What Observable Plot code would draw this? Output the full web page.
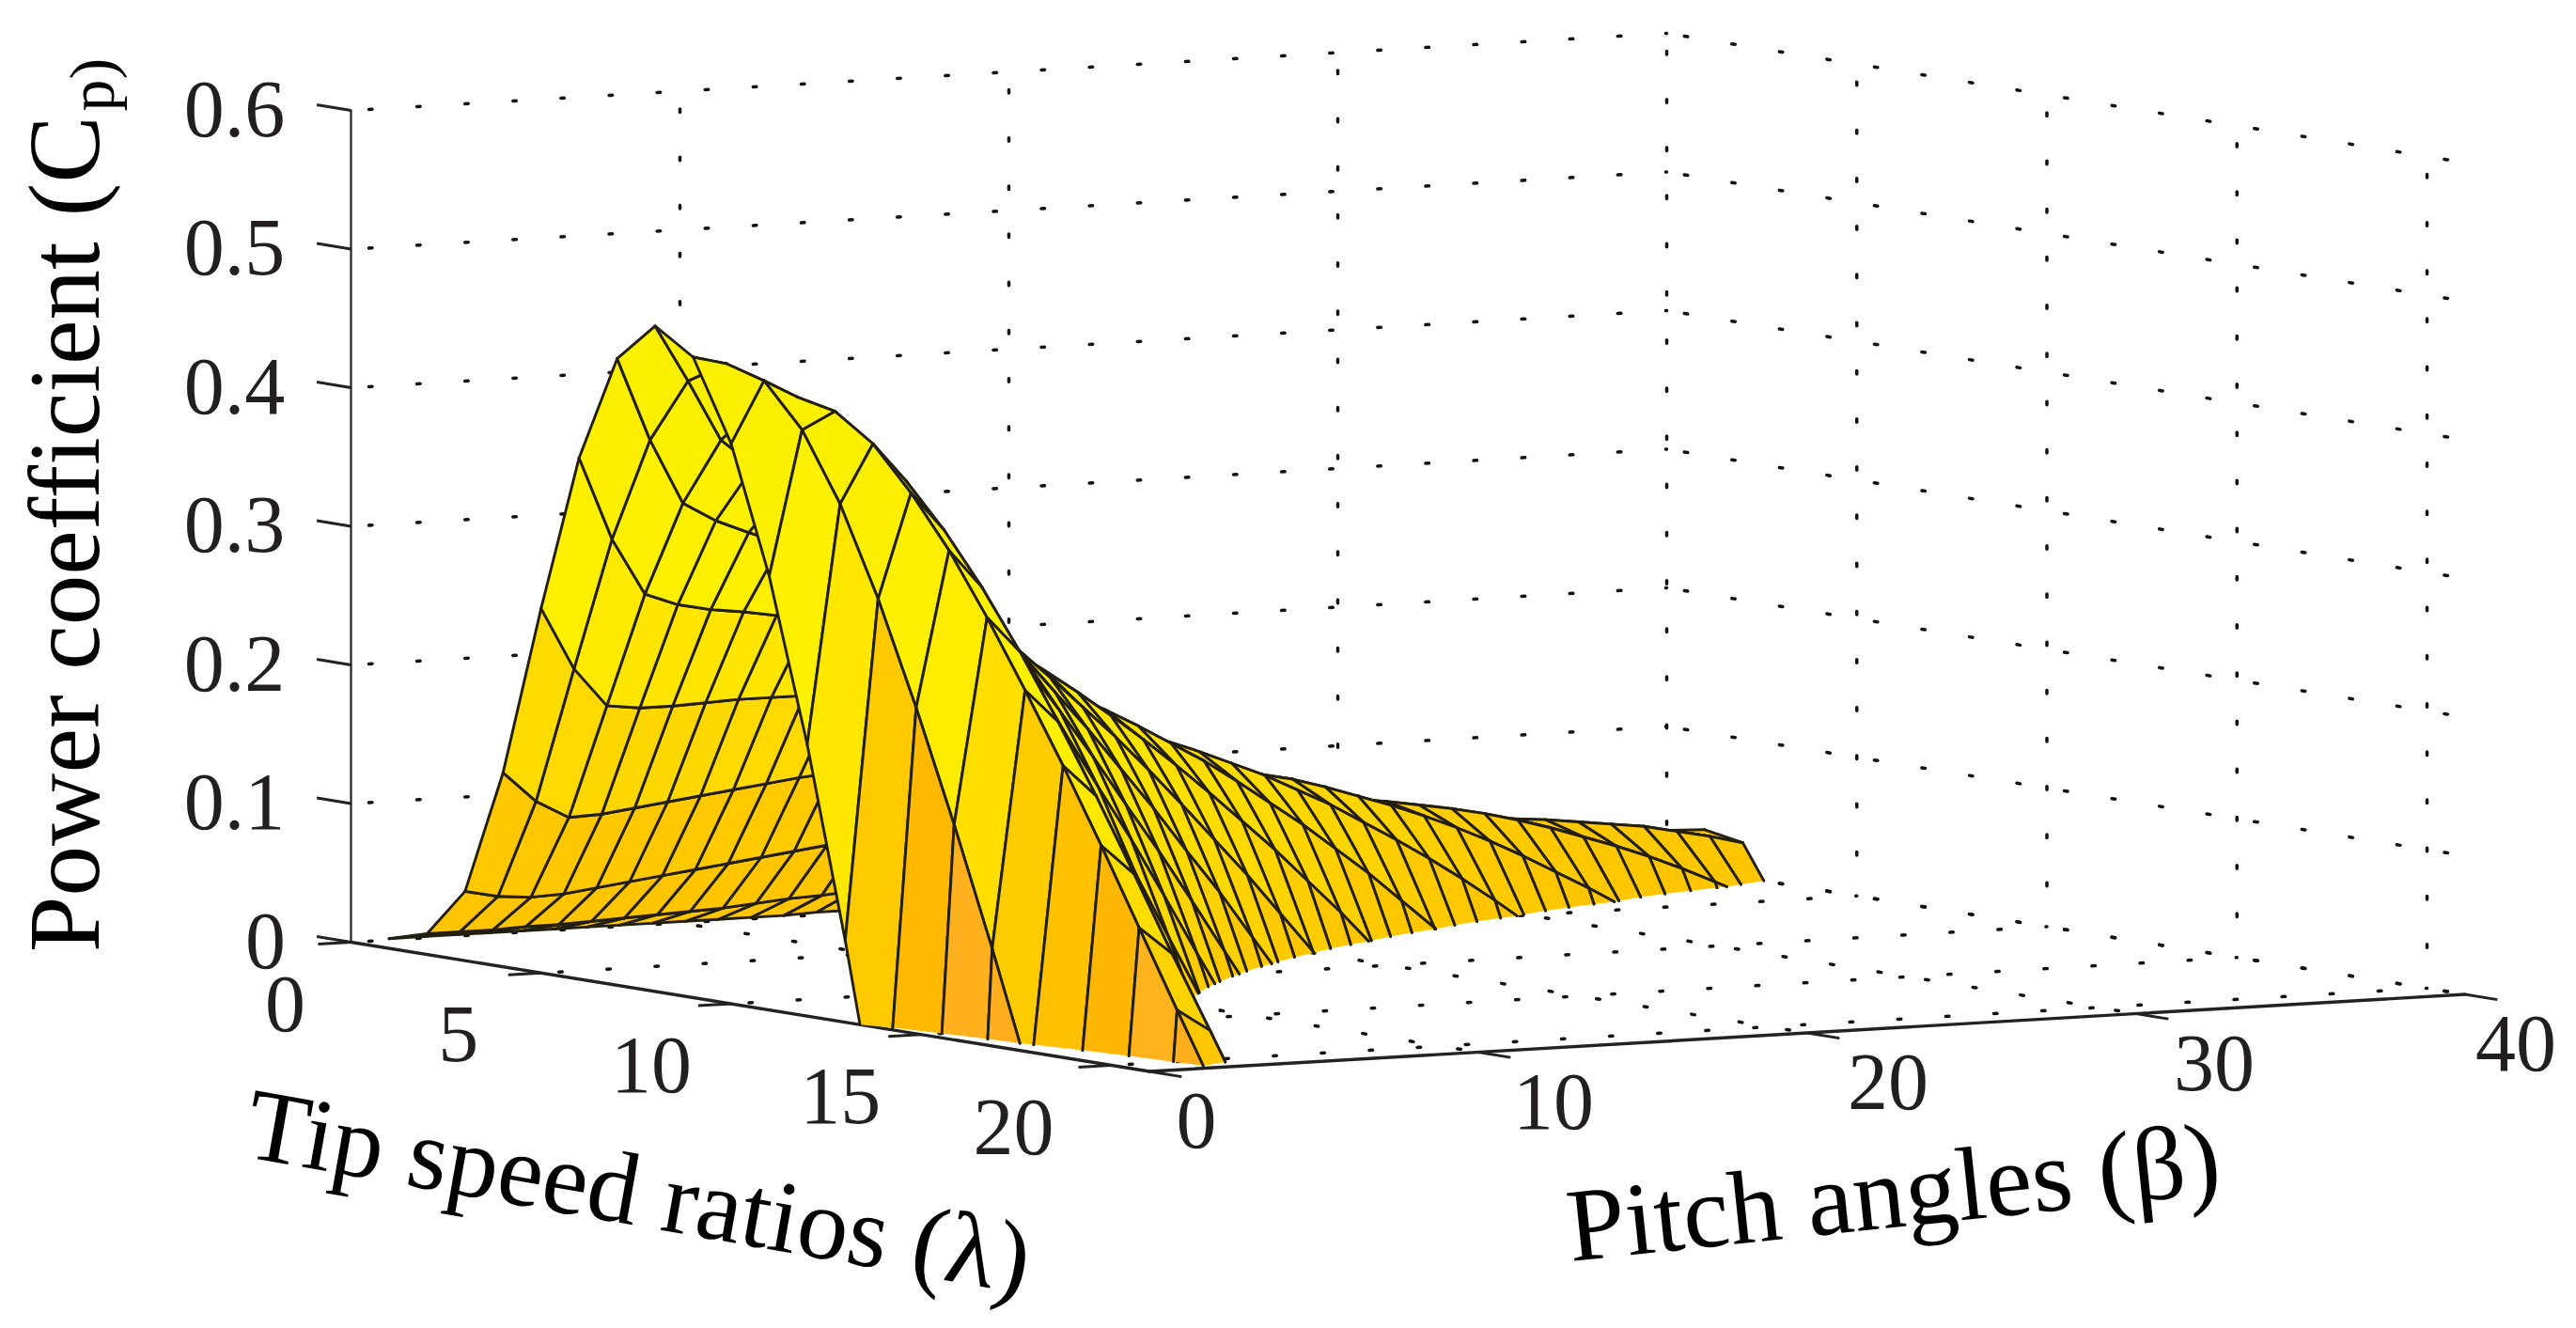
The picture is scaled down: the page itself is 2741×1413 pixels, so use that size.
<!DOCTYPE html>
<html>
<head>
<meta charset="utf-8">
<style>html,body{margin:0;padding:0;background:#fff}svg{display:block}</style>
<script src="https://cdn.jsdelivr.net/npm/d3@7"></script>
<script src="https://cdn.jsdelivr.net/npm/@observablehq/plot@0.6"></script>
</head>
<body>
<div id="chart"></div>
<script>
// ---------- data ----------
const zTicks = [0, 0.1, 0.2, 0.3, 0.4, 0.5, 0.6];
const zTickLabels = ["0", "0.1", "0.2", "0.3", "0.4", "0.5", "0.6"];
const lambdaTicks = [0, 5, 10, 15, 20];
const betaTicks = [0, 10, 20, 30, 40];
const lambdaFirst = 1;
// Cp by pitch angle (row index = beta), entries for lambda = 1, 2, 3, ...
const cpByBeta = [
[.007,.015,.050,.140,.263,.376,.452,.480,.462,.404,.313,.196,.059,-.093,-.252,-.417,-.586,-.757,-.928,-1.096,-1.260],
[.007,.015,.045,.118,.218,.316,.392,.439,.456,.448,.417,.368,.304,.230,.150,.065,-.024,-.115,-.206,-.299,-.390],
[.007,.015,.043,.105,.190,.275,.345,.395,.425,.435,.429,.410,.379,.342,.298,.250,.200,.147,.092,.037,-.017],
[.007,.016,.044,.106,.187,.266,.331,.375,.400,.409,.401,.382,.351,.314,.272,.226,.177,.125,.072,.021,-.031],
[.007,.016,.047,.109,.187,.261,.321,.359,.379,.381,.368,.344,.309,.269,.224,.174,.122,.067,.014,-.041,-.095],
[.007,.017,.050,.112,.188,.258,.312,.344,.357,.353,.334,.303,.264,.219,.167,.115,.060,-.001,-.058,-.116,-.173],
[.007,.018,.053,.115,.189,.254,.302,.327,.334,.323,.299,.263,.217,.167,.111,.054,-.008,-.070],
[.007,.019,.056,.118,.189,.249,.291,.310,.310,.293,.262,.220,.171,.116,.056,-.007,-.070],
[.007,.020,.059,.121,.189,.244,.279,.292,.285,.262,.226,.178,.121,.060,-.004,-.071],
[.007,.021,.062,.124,.188,.238,.267,.273,.260,.230,.187,.134,.072,.005,-.064],
[.007,.023,.065,.126,.187,.231,.254,.253,.233,.197,.147,.088,.021,-.050,-.125],
[.007,.025,.068,.128,.184,.224,.240,.232,.205,.163,.108,.041,-.030,-.107],
[.007,.026,.071,.129,.182,.215,.225,.210,.177,.127,.066,-.005,-.083],
[.008,.028,.073,.130,.178,.205,.209,.187,.147,.092,.023,-.053],
[.008,.030,.076,.130,.174,.195,.192,.164,.117,.055,-.019,-.102],
[.008,.032,.078,.130,.169,.184,.174,.139,.085,.017,-.063],
[.009,.034,.080,.130,.163,.172,.155,.113,.054,-.021,-.108],
[.009,.036,.082,.128,.157,.159,.135,.086,.020,-.062],
[.010,.038,.084,.127,.149,.145,.114,.059,-.014,-.102],
[.011,.041,.085,.124,.141,.131,.092,.030,-.049],
[.012,.043,.086,.121,.132,.115,.070,.001,-.086],
[.013,.045,.087,.117,.122,.098,.046,-.031,-.123],
[.014,.047,.087,.113,.112,.081,.022,-.062],
[.015,.049,.086,.107,.100,.062,-.004,-.095],
[.017,.050,.085,.102,.088,.043,-.031],
[.018,.052,.084,.095,.074,.022,-.058],
[.019,.053,.082,.087,.060,.001,-.087],
[.021,.054,.079,.079,.045,-.022,-.116],
[.022,.055,.076,.070,.029,-.045],
[.024,.055,.072,.060,.012,-.069],
[.025,.055,.068,.049,-.006,-.095],
[.027,.054,.063,.037,-.025],
[.028,.053,.057,.024,-.045],
[.029,.052,.050,.011,-.066],
[.030,.050,.042,-.003,-.088],
[.031,.047,.034,-.019,-.111],
[.031,.044,.025,-.035],
[.031,.041,.015,-.052],
[.031,.036,.004,-.071],
[.031,.031,-.007,-.090],
[.030,.025,-.020,-.110]
];
const xTitle = "Tip speed ratios (λ)";
const yTitle = "Pitch angles (β)";
const zTitle = "Power coefficient (C";
const zTitleSub = "p)";

// ---------- oblique view of the data box ----------
const W = 2741, H = 1413;
const view = {x0: 373, y0: 1002, xL: 40.45, yL: 6.55, xB: 35, yB: -2.05, yZ: -1475};
const LMAX = 21, BMAX = 40;
const px = (l, b) => view.x0 + view.xL * l + view.xB * b;
const py = (l, b, z) => view.y0 + view.yL * l + view.yB * b + view.yZ * z;
const P = (l, b, z) => ({x: px(l, b), y: py(l, b, z)});

// ---------- surface: painter's order, clipped at Cp = 0 ----------
const faces = [];
let gid = 0;
const vertex = (i, j) => ({l: i + lambdaFirst, b: j, z: cpByBeta[j][i]});
const cut = (a, c) => {
  const t = a.z / (a.z - c.z);
  return {l: a.l + t * (c.l - a.l), b: a.b + t * (c.b - a.b), z: 0};
};
function clip(poly) {
  const out = [];
  poly.forEach((a, k) => {
    const c = poly[(k + 1) % poly.length];
    if (a.z >= 0) out.push(a);
    if ((a.z >= 0) !== (c.z >= 0)) out.push(cut(a, c));
  });
  return out;
}
function addEdge(a, c, shade) {
  if (a.z < 0 && c.z < 0) return;
  const s = a.z >= 0 ? a : cut(a, c);
  const e = c.z >= 0 ? c : cut(a, c);
  gid++;
  for (const v of [s, e]) faces.push({...P(v.l, v.b, v.z), g: gid, shade, fo: 0, so: 1});
}
for (let j = cpByBeta.length - 2; j >= 0; j--) {
  const n = Math.min(cpByBeta[j].length, cpByBeta[j + 1].length);
  for (let i = 0; i < n - 1; i++) {
    const q = [vertex(i, j), vertex(i + 1, j), vertex(i + 1, j + 1), vertex(i, j + 1)];
    const poly = clip(q);
    if (poly.length < 3) continue;
    const shade = q[0].z;
    gid++;
    for (const v of poly) faces.push({...P(v.l, v.b, v.z), g: gid, shade, fo: 1, so: 0});
    q.forEach((a, k) => addEdge(a, q[(k + 1) % 4], shade));
  }
}

// ---------- dotted box grid ----------
const grid = [];
let gridId = 0;
const seg = (a, c) => { gridId++; grid.push({...a, g: gridId}, {...c, g: gridId}); };
for (const z of zTicks) {
  seg(P(0, 0, z), P(0, BMAX, z));
  seg(P(0, BMAX, z), P(LMAX, BMAX, z));
}
for (const b of betaTicks.slice(1)) {
  seg(P(0, b, 0.6), P(0, b, 0));
  seg(P(0, b, 0), P(LMAX, b, 0));
}
for (const l of lambdaTicks.slice(1)) {
  seg(P(l, BMAX, 0.6), P(l, BMAX, 0));
  seg(P(l, 0, 0), P(l, BMAX, 0));
}

// ---------- axis ticks and labels ----------
const tick = (a, c) => ({x1: a.x, y1: a.y, x2: c.x, y2: c.y});
const tickMarks = [
  ...zTicks.map(z => tick(P(0, 0, z), P(-0.9, 0, z))),
  ...lambdaTicks.map(l => tick(P(l, 0, 0), P(l, -1, 0))),
  ...betaTicks.map(b => tick(P(LMAX, b, 0), P(LMAX + 0.85, b, 0)))
];
const zNudge = [33, 0, 0, 0, 0, 0, 0];
const lambdaNudge = [18, 0, 3, 2, -16];
const betaNudge = [-33, -3, 3, 0, -29];
const labels = [
  ...zTicks.map((z, k) => ({x: px(0, 0) - 124 + zNudge[k], y: py(0, 0, z) + 27, t: zTickLabels[k]})),
  ...lambdaTicks.map((l, k) => ({x: px(l, 0) - 88 + lambdaNudge[k], y: py(l, 0, 0) + 94, t: String(l)})),
  ...betaTicks.map((b, k) => ({x: px(LMAX, b) + 83 + betaNudge[k], y: py(LMAX, b, 0) + 81, t: String(b)}))
];

const serif = "Liberation Serif";
const plot = Plot.plot({
  width: W, height: H,
  marginTop: 0, marginRight: 0, marginBottom: 0, marginLeft: 0,
  style: {background: "#fff"},
  x: {domain: [0, W], range: [0, W], axis: null},
  y: {domain: [0, H], range: [0, H], axis: null},
  color: {
    type: "linear", clamp: true, interpolate: "rgb",
    domain: [-0.3, -0.2, -0.1, 0, 0.05, 0.11, 0.14, 0.2, 0.26, 0.4, 0.48],
    range: ["#ffae1e", "#ffb41e", "#ffb800", "#ffc400", "#ffc800", "#ffd800", "#ffdc00", "#ffe800", "#fff000", "#fbf000", "#faf000"]
  },
  marks: [
    Plot.line(grid, {x: "x", y: "y", z: "g", stroke: "#111", strokeWidth: 3.5,
      strokeDasharray: "3.5 47.7", strokeDashoffset: -19}),
    Plot.line([P(0, 0, 0), P(0, 0, 0.6)], {x: "x", y: "y", stroke: "#222", strokeWidth: 2.2}),
    Plot.line([P(0, 0, 0), P(LMAX, 0, 0)], {x: "x", y: "y", stroke: "#222", strokeWidth: 3.4}),
    Plot.line([P(LMAX, 0, 0), P(LMAX, BMAX, 0)], {x: "x", y: "y", stroke: "#222", strokeWidth: 3.4}),
    Plot.link(tickMarks, {x1: "x1", y1: "y1", x2: "x2", y2: "y2", stroke: "#222", strokeWidth: 3}),
    Plot.line(faces, {
      x: "x", y: "y", z: "g", fill: "shade", stroke: "#231f10", strokeWidth: 2.9,
      fillOpacity: "fo", strokeOpacity: "so", curve: "linear-closed"
    }),
    Plot.text(labels, {x: "x", y: "y", text: "t", fontFamily: serif, fontSize: 86,
      fill: "#231f20", lineAnchor: "bottom"}),
    Plot.text([zTitle], {x: [104], y: [123], text: d => d, rotate: -90, textAnchor: "end",
      lineAnchor: "bottom", fontFamily: serif, fontSize: 107, fill: "#000"}),
    Plot.text([zTitleSub], {x: [120], y: [118], text: d => d, rotate: -90, textAnchor: "start",
      lineAnchor: "bottom", fontFamily: serif, fontSize: 68, fill: "#000"}),
    Plot.text([xTitle], {x: [673], y: [1303], text: d => d, rotate: 10, fontFamily: serif,
      fontSize: 109, fill: "#000", lineAnchor: "bottom"}),
    Plot.text([yTitle], {x: [2018], y: [1305], text: d => d, rotate: -6, fontFamily: serif,
      fontSize: 111, fill: "#000", lineAnchor: "bottom"})
  ]
});
document.getElementById("chart").appendChild(plot);
</script>
</body>
</html>
